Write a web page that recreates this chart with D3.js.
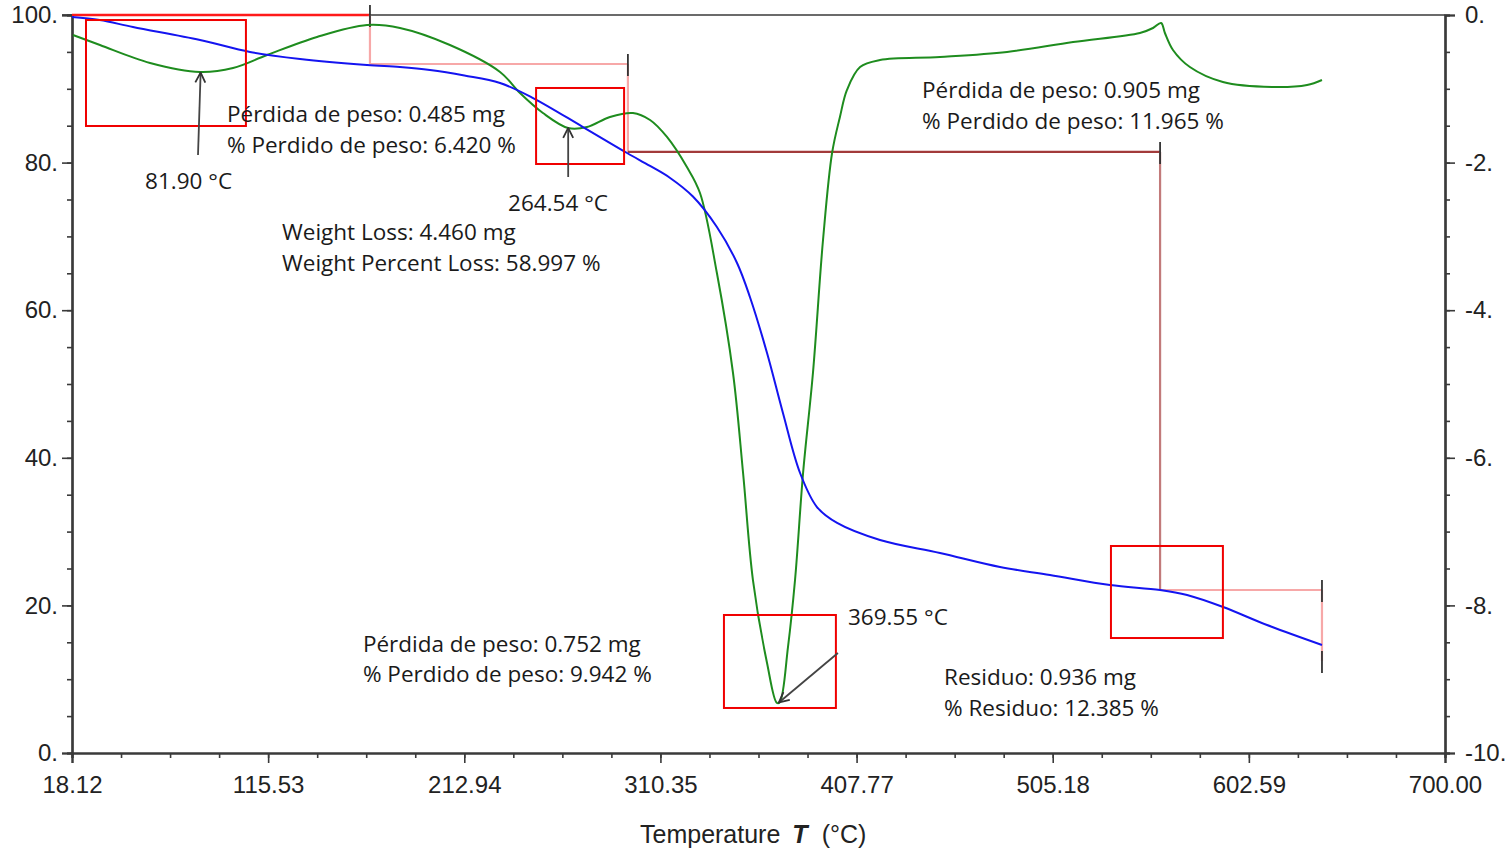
<!DOCTYPE html>
<html><head><meta charset="utf-8">
<script src="https://cdn.jsdelivr.net/npm/d3@7"></script>
<style>
html,body{margin:0;padding:0;background:#fff;}
svg{display:block;}
</style></head>
<body>
<svg id="chart" width="1506" height="850"></svg>
<script>
// ---------- DATA ----------
const xDomain = [18.12, 700.00];
const xTickValues = [18.12, 115.53, 212.94, 310.35, 407.77, 505.18, 602.59, 700.00];
const xTickLabels = ["18.12", "115.53", "212.94", "310.35", "407.77", "505.18", "602.59", "700.00"];
const leftTickValues = [0, 20, 40, 60, 80, 100];
const leftTickLabels = ["0.", "20.", "40.", "60.", "80.", "100."];
const rightTickValues = [0, -2, -4, -6, -8, -10];
const rightTickLabels = ["0.", "-2.", "-4.", "-6.", "-8.", "-10."];

// TGA curve: temperature (°C), weight (%)
const tgaTemp = [18.12, 31.9, 48.4, 81.7, 106.5, 131.4, 164.6, 181.0, 195.9, 213.0, 230.7, 247.1, 271.9, 293.8, 305.2, 315.0, 326.5, 338.4, 348.4, 354.8, 363.3, 371.2, 379.7, 388.1, 398.1, 419.4, 449.2, 479.0, 503.8, 533.6, 558.5, 571.9, 589.8, 611.6, 638.9];
const tgaWeight = [99.73, 99.32, 98.37, 96.61, 94.99, 94.04, 93.22, 92.95, 92.55, 91.80, 90.79, 88.75, 84.82, 81.30, 79.55, 77.95, 75.40, 71.27, 66.40, 61.79, 54.20, 46.07, 37.94, 33.33, 31.17, 28.86, 27.10, 25.20, 24.12, 22.76, 22.09, 21.41, 19.78, 17.34, 14.63];

// DTG curve: temperature (°C), derivative (right axis)
const dtgTemp = [18.6, 32.0, 56.9, 81.7, 98.1, 115.0, 139.8, 164.6, 181.0, 205.8, 230.7, 240.6, 252.0, 264.5, 273.9, 285.3, 296.7, 305.2, 313.6, 323.5, 330.0, 338.4, 346.4, 351.4, 356.3, 363.3, 368.2, 369.7, 373.7, 377.2, 381.2, 386.1, 391.1, 395.6, 399.5, 403.0, 409.5, 419.4, 449.2, 482.5, 515.3, 548.5, 555.0, 559.0, 560.9, 564.9, 573.3, 589.7, 614.6, 631.5, 638.9];
const dtgValue = [-0.271, -0.407, -0.650, -0.772, -0.718, -0.542, -0.298, -0.136, -0.176, -0.407, -0.772, -1.057, -1.328, -1.531, -1.518, -1.382, -1.328, -1.423, -1.653, -2.060, -2.412, -3.496, -4.851, -6.206, -7.656, -8.780, -9.322, -9.309, -8.564, -7.656, -6.206, -4.851, -3.049, -1.870, -1.382, -1.016, -0.705, -0.610, -0.569, -0.501, -0.366, -0.244, -0.176, -0.108, -0.244, -0.474, -0.705, -0.908, -0.976, -0.949, -0.881];

// Step analysis (weight-loss steps): boundaries and plateau levels (%) as drawn
const stepStartTemp = [18.12, 166.1, 294.2, 558.5];
const stepEndTemp   = [166.1, 294.2, 558.5, 638.9];
const stepLevels    = [100, 93.36, 81.44, 22.09, 12.47];

// Peak temperatures
const peakTemps = [81.90, 264.54, 369.55];

// Annotation texts
const annoLines = [
  ["Pérdida de peso: 0.485 mg", "% Perdido de peso: 6.420 %"],
  ["Pérdida de peso: 0.905 mg", "% Perdido de peso: 11.965 %"],
  ["Weight Loss: 4.460 mg", "Weight Percent Loss: 58.997 %"],
  ["Pérdida de peso: 0.752 mg", "% Perdido de peso: 9.942 %"],
  ["Residuo: 0.936 mg", "% Residuo: 12.385 %"]
];

// ---------- LAYOUT ----------
const svg = d3.select("#chart");
const L = 72, R = 1445, T = 15, B = 753;
const x = d3.scaleLinear().domain(xDomain).range([L, R]);
const yL = d3.scaleLinear().domain([0, 100]).range([B, T]);
const yR = d3.scaleLinear().domain([-10, 0]).range([B, T]);

const tickFont = "'Liberation Sans', Arial, sans-serif";
const annoFont = "'Open Sans', Lato, sans-serif";
const axisColor = "#3a3a3a";

// top border line
svg.append("line").attr("x1", L - 10).attr("x2", R).attr("y1", T).attr("y2", T)
  .attr("stroke", axisColor).attr("stroke-width", 1.6);

// x axis
const xMinor = d3.range(0, 29).map(i => xDomain[0] + i * (xDomain[1] - xDomain[0]) / 28);
const gx = svg.append("g").attr("transform", `translate(0,${B})`)
  .call(d3.axisBottom(x).tickValues(xMinor).tickSize(5).tickFormat(""));
const gx2 = svg.append("g").attr("transform", `translate(0,${B})`)
  .call(d3.axisBottom(x).tickValues(xTickValues).tickSize(10)
    .tickFormat((d, i) => xTickLabels[i]).tickPadding(13));
[gx, gx2].forEach(g => {
  g.select(".domain").attr("stroke", axisColor).attr("stroke-width", 2.2);
  g.selectAll(".tick line").attr("stroke", axisColor).attr("stroke-width", 1.6);
});
gx2.selectAll(".tick text").attr("font-family", tickFont).attr("font-size", 24).attr("fill", "#222");

// left axis
const yMinor = d3.range(0, 101, 5);
const gyl = svg.append("g").attr("transform", `translate(${L},0)`)
  .call(d3.axisLeft(yL).tickValues(yMinor).tickSize(5).tickFormat(""));
const gyl2 = svg.append("g").attr("transform", `translate(${L},0)`)
  .call(d3.axisLeft(yL).tickValues(leftTickValues).tickSize(10).tickPadding(4)
    .tickFormat((d, i) => leftTickLabels[i]));
[gyl, gyl2].forEach(g => {
  g.select(".domain").attr("stroke", axisColor).attr("stroke-width", 2.2);
  g.selectAll(".tick line").attr("stroke", axisColor).attr("stroke-width", 1.6);
});
gyl2.selectAll(".tick text").attr("font-family", tickFont).attr("font-size", 24).attr("fill", "#222");

// right axis
const yRMinor = d3.range(0, 21).map(i => -i * 0.5);
const gyr = svg.append("g").attr("transform", `translate(${R},0)`)
  .call(d3.axisRight(yR).tickValues(yRMinor).tickSize(5).tickFormat(""));
const gyr2 = svg.append("g").attr("transform", `translate(${R},0)`)
  .call(d3.axisRight(yR).tickValues(rightTickValues).tickSize(10).tickPadding(10)
    .tickFormat((d, i) => rightTickLabels[i]));
[gyr, gyr2].forEach(g => {
  g.select(".domain").attr("stroke", axisColor).attr("stroke-width", 2.2);
  g.selectAll(".tick line").attr("stroke", axisColor).attr("stroke-width", 1.6);
});
gyr2.selectAll(".tick text").attr("font-family", tickFont).attr("font-size", 24).attr("fill", "#222");

// x-axis title
const title = svg.append("text").attr("x", 640).attr("y", 843)
  .attr("text-anchor", "start").attr("font-family", tickFont).attr("font-size", 25).attr("fill", "#222");
title.append("tspan").text("Temperature");
title.append("tspan").attr("dx", 12).text("T").attr("font-weight", "bold").attr("font-style", "italic");
title.append("tspan").attr("dx", 14).text("(°C)");

// ---------- STEP LINES ----------
const pink = "#f7a8a8", darkRed = "#a23a3a", midRed = "#c27a7a";
const stepColorsH = ["#ff1a1a", pink, darkRed, pink];
const stepColorsV = [pink, pink, midRed, pink];
const gs = svg.append("g");
stepStartTemp.forEach((t0, i) => {
  const t1 = stepEndTemp[i];
  gs.append("line").attr("x1", x(t0)).attr("x2", x(t1))
    .attr("y1", yL(stepLevels[i])).attr("y2", yL(stepLevels[i]))
    .attr("stroke", stepColorsH[i]).attr("stroke-width", i === 0 ? 2.6 : 2.2);
  gs.append("line").attr("x1", x(t1)).attr("x2", x(t1))
    .attr("y1", yL(stepLevels[i])).attr("y2", yL(stepLevels[i + 1]))
    .attr("stroke", stepColorsV[i]).attr("stroke-width", 2.2);
});
// black marker ticks at step boundaries
const markerLevels = stepEndTemp.map((t, i) => ({ t: t, v: stepLevels[i] }));
markerLevels.push({ t: stepEndTemp[3], v: stepLevels[4] });
markerLevels.forEach(m => {
  gs.append("line").attr("x1", x(m.t)).attr("x2", x(m.t))
    .attr("y1", yL(m.v) - 10).attr("y2", yL(m.v) + 12)
    .attr("stroke", "#333").attr("stroke-width", 1.8);
});

// ---------- CURVES ----------
const tgaData = tgaTemp.map((t, i) => [t, tgaWeight[i]]);
const dtgData = dtgTemp.map((t, i) => [t, dtgValue[i]]);
svg.append("path").datum(dtgData)
  .attr("d", d3.line().x(d => x(d[0])).y(d => yR(d[1])).curve(d3.curveCatmullRom.alpha(0.5)))
  .attr("fill", "none").attr("stroke", "#1e8c1e").attr("stroke-width", 2);
svg.append("path").datum(tgaData)
  .attr("d", d3.line().x(d => x(d[0])).y(d => yL(d[1])).curve(d3.curveCatmullRom.alpha(0.5)))
  .attr("fill", "none").attr("stroke", "#1414f0").attr("stroke-width", 2);

// ---------- RED BOXES ----------
const boxes = [
  { t0: 25.07, t1: 104.5, v0: 99.32, v1: 84.96 },
  { t0: 248.6, t1: 292.3, v0: 90.11, v1: 79.81 },
  { t0: 341.9, t1: 397.5, v0: 18.70, v1: 6.10 },
  { t0: 534.1, t1: 589.7, v0: 28.05, v1: 15.58 }
];
boxes.forEach(b => {
  svg.append("rect").attr("x", x(b.t0)).attr("y", yL(b.v0))
    .attr("width", x(b.t1) - x(b.t0)).attr("height", yL(b.v1) - yL(b.v0))
    .attr("fill", "none").attr("stroke", "#f00000").attr("stroke-width", 2);
});

// ---------- ARROWS ----------
const defs = svg.append("defs");
defs.append("marker").attr("id", "arr").attr("viewBox", "0 0 12 12")
  .attr("refX", 11).attr("refY", 6).attr("markerWidth", 12).attr("markerHeight", 12)
  .attr("markerUnits", "userSpaceOnUse").attr("orient", "auto")
  .append("path").attr("d", "M1,1 L11,6 L1,11").attr("fill", "none")
  .attr("stroke", "#333").attr("stroke-width", 1.8);
const arrows = [
  { t0: 80.7, v0: 81.03, t1: 82.0, v1: 92.2 },
  { t0: 264.54, v0: 78.05, t1: 264.54, v1: 84.7 },
  { t0: 398.5, v0: 13.55, t1: 369.2, v1: 6.85 }
];
arrows.forEach(a => {
  svg.append("line").attr("x1", x(a.t0)).attr("y1", yL(a.v0))
    .attr("x2", x(a.t1)).attr("y2", yL(a.v1))
    .attr("stroke", "#444").attr("stroke-width", 1.8).attr("marker-end", "url(#arr)");
});

// ---------- TEXT ANNOTATIONS ----------
function label(txt, t, v) {
  svg.append("text").attr("x", x(t)).attr("y", yL(v))
    .attr("dominant-baseline", "central")
    .attr("font-family", annoFont).attr("font-size", 22.5).attr("fill", "#1a1a1a").text(txt);
}
const annoPos = [
  { t: 95.1, v: [86.72, 82.52] },
  { t: 440.3, v: [89.84, 85.64] },
  { t: 122.4, v: [70.60, 66.40] },
  { t: 162.6, v: [14.77, 10.84] },
  { t: 451.2, v: [10.30, 6.10] }
];
annoLines.forEach((lines, i) => {
  lines.forEach((ln, j) => label(ln, annoPos[i].t, annoPos[i].v[j]));
});
const peakPos = [
  { t: 54.4, v: 77.51 },
  { t: 234.7, v: 74.66 },
  { t: 403.5, v: 18.56 }
];
peakTemps.forEach((p, i) => label(p.toFixed(2) + " °C", peakPos[i].t, peakPos[i].v));
</script>
</body></html>
